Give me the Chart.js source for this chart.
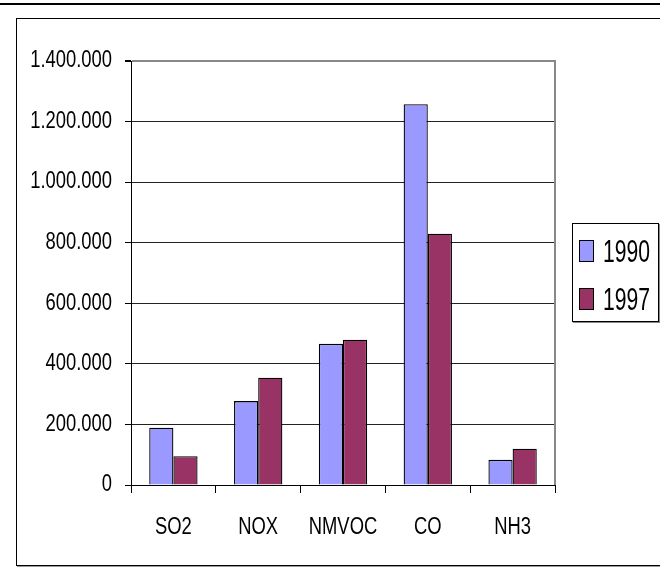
<!DOCTYPE html>
<html>
<head>
<meta charset="utf-8">
<script src="https://cdn.jsdelivr.net/npm/chart.js@4/dist/chart.umd.min.js"></script>
<style>
  html, body { margin: 0; padding: 0; background: #fff; }
  body { width: 660px; height: 569px; position: relative; overflow: hidden; }
  #rule { position: absolute; left: 0; top: 3px; width: 660px; height: 2px; background: #000; }
  #frame { position: absolute; left: 16px; top: 18px; width: 700px; height: 546px;
           border: 1px solid #000; box-shadow: 1px 1px 0 #999; }
  #wrap { position: absolute; left: 0; top: 0; width: 660px; height: 569px; }
  #legend { position: absolute; left: 572px; top: 223px; width: 85px; height: 97px;
            border: 1px solid #000; box-shadow: 1px 1px 0 #888; background: #fff; }
  .item { position: absolute; left: 6px; height: 22px; }
  .sw { position: absolute; left: 0; top: 0; width: 13px; height: 20px; border: 1px solid #000; }
  .lbl { position: absolute; left: 24px; top: -7px; font-family: "Liberation Sans", Arial, sans-serif;
         font-size: 32px; line-height: 36px; color: #000; white-space: nowrap;
         transform: scaleX(0.66); transform-origin: left center; }
</style>
</head>
<body>
<div id="rule"></div>
<div id="frame"></div>
<div id="wrap"><canvas id="c" width="660" height="569"></canvas></div>
<div id="legend"></div>
<script>
// Emissions by pollutant, 1990 vs 1997
const categories = ['SO2', 'NOX', 'NMVOC', 'CO', 'NH3'];
const years = ['1990', '1997'];
const values1990 = [189000, 277000, 466000, 1257000, 83000];
const values1997 = [95000, 354000, 480000, 830000, 120000];
const seriesColors = ['#9999FF', '#993366'];
const yTicks = [0, 200000, 400000, 600000, 800000, 1000000, 1200000, 1400000];

const FONT = '"Liberation Sans", Arial, sans-serif';
const CONDENSE = 0.8;

function fmt(v) {
  return String(v).replace(/\B(?=(\d{3})+(?!\d))/g, '.');
}

// Condensed lettering: squeeze every glyph run horizontally around its anchor point
const canvas = document.getElementById('c');
const ctx2d = canvas.getContext('2d');
const plainFillText = ctx2d.fillText.bind(ctx2d);
ctx2d.fillText = function (text, x, y, maxWidth) {
  this.save();
  this.translate(x, y);
  this.scale(CONDENSE, 1);
  if (maxWidth === undefined) plainFillText(text, 0, 0);
  else plainFillText(text, 0, 0, maxWidth / CONDENSE);
  this.restore();
};

// Gray right-hand edge of the plot area
const plotEdge = {
  id: 'plotEdge',
  afterDraw(chart) {
    const a = chart.chartArea, ctx = chart.ctx;
    ctx.save();
    ctx.strokeStyle = '#888';
    ctx.lineWidth = 2;
    ctx.beginPath();
    ctx.moveTo(a.right, a.top - 1);
    ctx.lineTo(a.right, a.bottom);
    ctx.stroke();
    ctx.restore();
  }
};

const seriesValues = [values1990, values1997];

new Chart(canvas, {
  type: 'bar',
  data: {
    labels: categories,
    datasets: years.map((y, i) => ({
      label: y,
      data: seriesValues[i],
      backgroundColor: seriesColors[i],
      borderColor: '#000',
      borderWidth: 1.3,
      categoryPercentage: 0.57,
      barPercentage: 1.0
    }))
  },
  options: {
    responsive: false,
    animation: false,
    devicePixelRatio: 1,
    layout: { padding: { left: 20, top: 61, right: 105, bottom: 0 } },
    plugins: { legend: { display: false }, tooltip: { enabled: false } },
    scales: {
      x: {
        afterFit(s) { s.height = 84; },
        grid: { drawOnChartArea: false, drawTicks: true, tickLength: 8, color: '#000', offset: true },
        border: { display: true, color: '#000', width: 1 },
        ticks: { color: '#000', font: { family: FONT, size: 23 }, padding: 21, maxRotation: 0, minRotation: 0, autoSkip: false }
      },
      y: {
        min: 0,
        max: 1400000,
        afterFit(s) { s.width = 111; },
        afterBuildTicks(s) { s.ticks = yTicks.map(v => ({ value: v })); },
        grid: {
          color: ctx => (ctx.tick && ctx.tick.value === 1400000) ? '#888' : '#222',
          lineWidth: ctx => (ctx.tick && ctx.tick.value === 1400000) ? 2 : 1,
          tickLength: 6,
          tickColor: '#000',
          drawTicks: true
        },
        border: { display: true, color: '#000', width: 1 },
        ticks: {
          color: '#000',
          font: { family: FONT, size: 23 },
          padding: 13,
          autoSkip: false,
          callback: v => fmt(v)
        }
      }
    }
  },
  plugins: [plotEdge]
});

// Legend box built from the same series names and colours
const legend = document.getElementById('legend');
const tops = [16, 64];
years.forEach((y, i) => {
  const it = document.createElement('div');
  it.className = 'item';
  it.style.top = tops[i] + 'px';
  const sw = document.createElement('div');
  sw.className = 'sw';
  sw.style.background = seriesColors[i];
  const lb = document.createElement('span');
  lb.className = 'lbl';
  lb.textContent = y;
  it.appendChild(sw);
  it.appendChild(lb);
  legend.appendChild(it);
});
</script>
</body>
</html>
